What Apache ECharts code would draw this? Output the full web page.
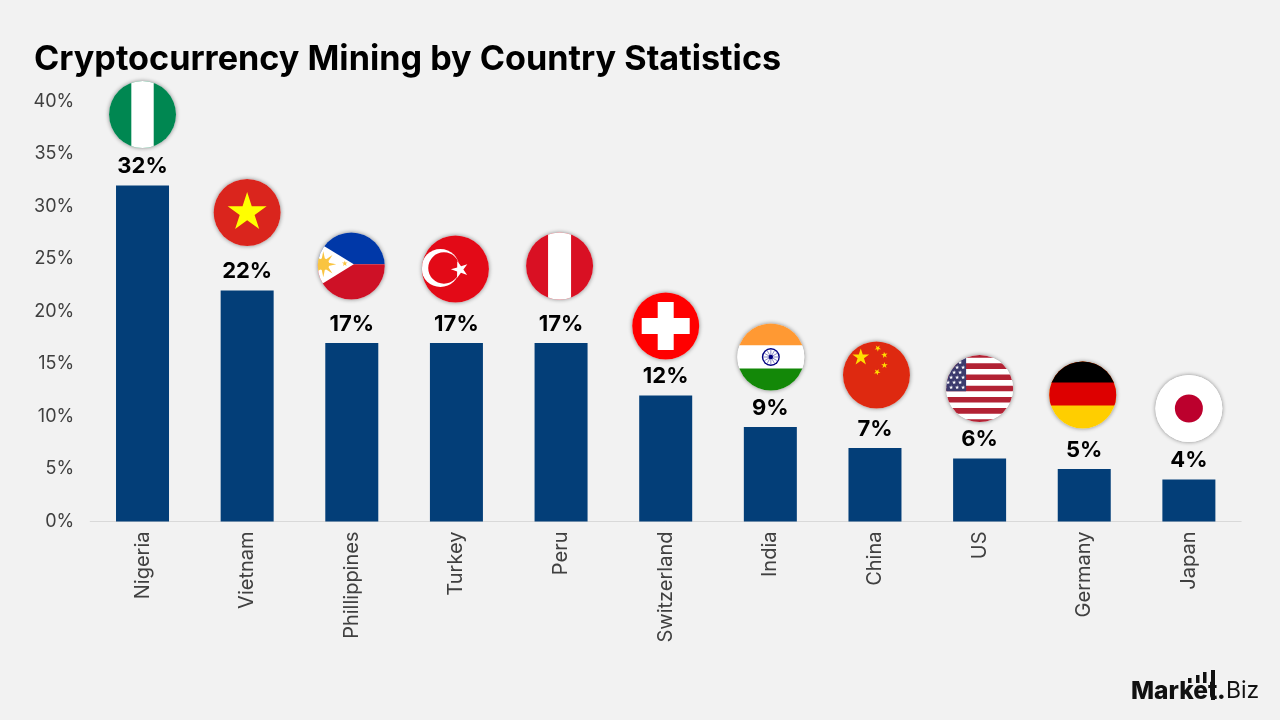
<!DOCTYPE html>
<html>
<head>
<meta charset="utf-8">
<style>html,body{margin:0;padding:0;background:#f2f2f2}#chart{width:1280px;height:720px}</style>
<script src="https://cdn.jsdelivr.net/npm/echarts@6/dist/echarts.min.js"></script>
</head>
<body>
<div id="chart"></div>
<script>
const countries = ['Nigeria','Vietnam','Phillippines','Turkey','Peru','Switzerland','India','China','US','Germany','Japan'];
const shares = [32,22,17,17,17,12,9,7,6,5,4];
const yTicks = [0,5,10,15,20,25,30,35,40];

const FONT = 'Inter';
const R = 33.5;
// Placement of each flag badge relative to the top centre of its bar: [dx, lift] in pixels.
const flagPlacement = {Nigeria:[0,71],Vietnam:[0,78],Phillippines:[-0.5,77],Turkey:[-1,74],Peru:[-1.5,77],Switzerland:[0,69.5],India:[0.5,70],China:[1.5,73],US:[0,70],Germany:[-1.5,74],Japan:[0,71]};

function rect(x,y,w,h,fill){return {type:'rect',shape:{x,y,width:w,height:h},style:{fill}};}
function disc(cx,cy,r,fill,extra){return {type:'circle',shape:{cx,cy,r},style:Object.assign({fill},extra||{})};}
function star(cx,cy,r,fill,rot){
  const pts=[];const a0=(rot||0)-Math.PI/2;
  for(let i=0;i<10;i++){const rr=i%2?r*0.382:r;const a=a0+i*Math.PI/5;pts.push([cx+rr*Math.cos(a),cy+rr*Math.sin(a)]);}
  return {type:'polygon',shape:{points:pts},style:{fill}};
}
function rays(cx,cy,r,fill){
  const out=[];
  for(let i=0;i<8;i++){
    const a=i*Math.PI/4, w=0.3;
    out.push({type:'polygon',shape:{points:[
      [cx+r*0.42*Math.cos(a-w),cy+r*0.42*Math.sin(a-w)],
      [cx+r*Math.cos(a),cy+r*Math.sin(a)],
      [cx+r*0.42*Math.cos(a+w),cy+r*0.42*Math.sin(a+w)]]},style:{fill}});
  }
  return out;
}
const W = R*2+2;
const flags = {
  Nigeria:()=>[rect(-W/2,-W/2,W,W,'#008751'),rect(-11.2,-W/2,22.4,W,'#ffffff')],
  Vietnam:()=>[rect(-W/2,-W/2,W,W,'#da251d'),star(0,0,20.5,'#ffff00')],
  Phillippines:()=>[
    rect(-W/2,-W/2,W,W/2-1.7,'#0038a8'),rect(-W/2,-1.7,W,W/2+1.7,'#ce1126'),
    {type:'polygon',shape:{points:[[2.5,-1.7],[-37,-26],[-37,22.6]]},style:{fill:'#ffffff'}},
    ...rays(-28,-1.7,13,'#f9c440'),disc(-28,-1.7,6,'#f9c440'),star(-6.5,-2.5,3,'#f9c440')],
  Turkey:()=>[rect(-W/2,-W/2,W,W,'#e30a17'),disc(-15,-1,19,'#ffffff'),disc(-11.5,-1,15.7,'#e30a17'),star(4.5,0.5,9,'#ffffff',-0.3)],
  Peru:()=>[rect(-W/2,-W/2,W,W,'#d91023'),rect(-11.5,-W/2,23,W,'#ffffff')],
  Switzerland:()=>[rect(-W/2,-W/2,W,W,'#ff0000'),rect(-24,-8,48,16,'#ffffff'),rect(-8,-24,16,48,'#ffffff')],
  India:()=>{
    const els=[rect(-W/2,-W/2,W,W/2-11.5,'#ff9933'),rect(-W/2,-11.5,W,23,'#ffffff'),rect(-W/2,11.5,W,W/2-11.5,'#138808'),
      disc(0,0,9,'#000080'),disc(0,0,7.6,'#ffffff')];
    for(let i=0;i<12;i++){const a=i*Math.PI/6;els.push({type:'line',shape:{x1:0,y1:0,x2:7.6*Math.cos(a),y2:7.6*Math.sin(a)},style:{stroke:'#5a5ab0',lineWidth:0.7}});}
    els.push(disc(0,0,2.2,'#000080'));
    return els;
  },
  China:()=>[rect(-W/2,-W/2,W,W,'#de2910'),star(-15.7,-17.7,8.8,'#ffde00'),star(1.3,-26.7,3.4,'#ffde00',0.6),star(8,-20,3.4,'#ffde00',1.1),star(8,-9.7,3.4,'#ffde00',0),star(0.7,-3,3.4,'#ffde00',0.5)],
  US:()=>{
    const S=36.4,sh=5.6,els=[rect(-S,-S,2*S,2*S,'#ffffff')];
    for(let i=0;i<13;i+=2){els.push(rect(-S,-S+i*sh,2*S,sh,'#b22234'));}
    els.push(rect(-S,-S,S-13.5,sh*7,'#3c3b6e'));
    for(let r=0;r<7;r++){for(let c=0;c<5;c++){
      els.push(star(-16.5-c*6-(r%2?3:0),-31+r*5,2.2,'#ffffff'));
    }}
    return els;
  },
  Germany:()=>[rect(-W/2,-W/2,W,W,'#ffce00'),rect(-W/2,-W/2,W,W/2+10.5,'#dd0000'),rect(-W/2,-W/2,W,W/2-12.5,'#000000')],
  Japan:()=>[rect(-W/2,-W/2,W,W,'#ffffff'),disc(0,0,14,'#bc002d')]
};

const chart = echarts.init(document.getElementById('chart'));
chart.setOption({
  animation:false,
  backgroundColor:'#f2f2f2',
  title:{text:'Cryptocurrency Mining by Country Statistics',left:34,top:43,padding:0,
    textStyle:{fontFamily:FONT,fontSize:34.2,fontWeight:700,color:'#000000'}},
  grid:{left:90.2,right:38.8,top:101.5,bottom:198.5,containLabel:false},
  xAxis:{type:'category',data:countries,
    axisLine:{lineStyle:{color:'#d9d9d9',width:1}},axisTick:{show:false},
    axisLabel:{rotate:90,margin:10,interval:0,fontFamily:FONT,fontSize:20,color:'#404040',padding:[3,0,0,0]}},
  yAxis:{type:'value',min:yTicks[0],max:yTicks[yTicks.length-1],interval:yTicks[1]-yTicks[0],
    splitLine:{show:false},axisLine:{show:false},axisTick:{show:false},
    axisLabel:{margin:16,formatter:'{value}%',fontFamily:FONT,fontSize:18,color:'#404040',padding:[4,0,0,0]}},
  series:[
    {type:'bar',data:shares,barWidth:53,itemStyle:{color:'#033e78'},
      label:{show:true,position:'top',distance:8,formatter:'{c}%',fontFamily:FONT,fontSize:22,fontWeight:700,color:'#000000'}},
    {type:'custom',clip:false,silent:true,data:shares.map((v,i)=>[i,v]),encode:{x:0,y:1},z:5,
      renderItem(params,api){
        const name=countries[params.dataIndex];
        const p=api.coord([api.value(0),api.value(1)]);
        const place=flagPlacement[name];
        return {type:'group',x:p[0]+place[0],y:p[1]-place[1],children:[
          disc(0,0,R,'#ffffff',{shadowBlur:4,shadowColor:'rgba(0,0,0,0.45)'}),
          {type:'group',clipPath:{type:'circle',shape:{cx:0,cy:0,r:R}},children:flags[name]()}
        ]};
      }}
  ],
  graphic:[
    {type:'text',left:1131,top:679,style:{text:'Market',fontFamily:FONT,fontSize:24.5,fontWeight:800,fill:'#111111'}},
    {type:'text',left:1217,top:679,style:{text:'.',fontFamily:FONT,fontSize:24.5,fontWeight:800,fill:'#111111'}},
    {type:'text',left:1226,top:680,style:{text:'Biz',fontFamily:FONT,fontSize:23,fontWeight:400,fill:'#111111'}},
    {type:'rect',shape:{x:1188,y:678,width:3.5,height:5},style:{fill:'#111111'}},
    {type:'rect',shape:{x:1196,y:675,width:3.5,height:8},style:{fill:'#111111'}},
    {type:'rect',shape:{x:1203,y:672,width:3.5,height:11},style:{fill:'#111111'}},
    {type:'rect',shape:{x:1211,y:670,width:4,height:30},style:{fill:'#111111'}}
  ]
});
</script>
</body>
</html>
